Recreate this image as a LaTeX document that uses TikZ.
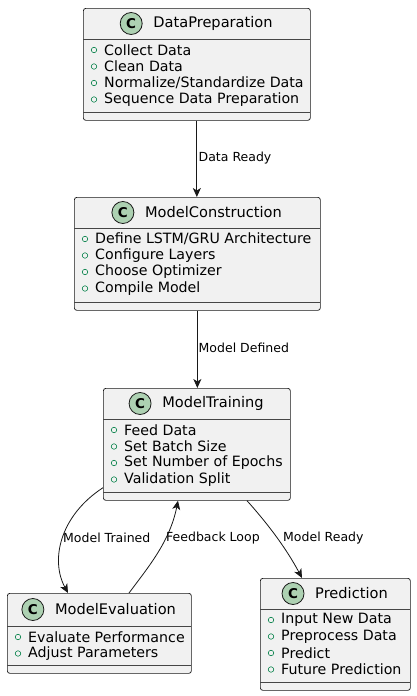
\documentclass[tikz,border=0pt]{standalone}
\usepackage{fontspec}
\setmainfont{DejaVu Sans}
\usetikzlibrary{arrows.meta}
\definecolor{boxfill}{HTML}{F1F1F1}
\definecolor{boxline}{HTML}{181818}
\definecolor{circfill}{HTML}{ADD1B2}
\definecolor{bulletc}{HTML}{038048}
\tikzset{
  clsbox/.style={draw=boxline, fill=boxfill, line width=0.7pt, rounded corners=2.5pt, inner sep=0pt},
  sepline/.style={draw=boxline!80, line width=0.7pt},
  clstitle/.style={inner sep=0pt, font=\fontsize{14.6}{17}\selectfont, text=black},
  clscirc/.style={circle, draw=boxline, fill=circfill, line width=0.8pt, minimum size=22pt, inner sep=0pt, font=\fontsize{13.5}{15}\selectfont\bfseries},
  clsitem/.style={inner sep=0pt, anchor=west, font=\fontsize{14.2}{16}\selectfont, text=black},
  bullet/.style={circle, draw=bulletc, line width=0.6pt, minimum size=5.5pt, inner sep=0pt},
  conn/.style={draw=boxline, line width=0.8pt, -{Stealth[length=9pt,width=8pt,inset=2.5pt]}},
  elabel/.style={inner sep=0pt, anchor=west, font=\fontsize{12.5}{14}\selectfont, text=black}
}
% #1 name, #2 x1, #3 y1, #4 x2, #5 y2, #6 title, #7 items, #8 header height
\newcommand\umlcls[8]{%
  \node[clsbox, minimum width={(#4-#2)*1pt}, minimum height={(#5-#3)*1pt}, anchor=north west] (#1) at (#2,#3) {};
  \draw[sepline] (#2,{#3+#8}) -- (#4,{#3+#8});
  \draw[sepline] (#2,{#5-8}) -- (#4,{#5-8});
  \node[clstitle] (#1-t) at ({(#2+#4)/2+16.5},{#3+#8/2}) {#6};
  \node[clscirc] (#1-c) at ([xshift=-22pt]#1-t.west) {C};
  \foreach \t [count=\i] in {#7} {
    \node[bullet] (#1-b\i) at ({#2+11},{#3+#8+11+(\i-1)*16.5}) {};
    \node[clsitem] (#1-i\i) at ({#2+21},{#3+#8+11+(\i-1)*16.5}) {\t};
  }%
}
\begin{document}
\begin{tikzpicture}[x=1pt,y=-1pt]
\useasboundingbox (0,0) rectangle (416,696);
\umlcls{dp}{83}{8}{310}{120}{DataPreparation}{Collect Data,Clean Data,Normalize/Standardize Data,Sequence Data Preparation}{31}
\umlcls{mc}{74}{197}{320}{310}{ModelConstruction}{Define LSTM/GRU Architecture,Configure Layers,Choose Optimizer,Compile Model}{31}
\umlcls{mt}{103}{388}{290}{500}{ModelTraining}{Feed Data,Set Batch Size,Set Number of Epochs,Validation Split}{31}
\umlcls{me}{7}{593}{191}{673}{ModelEvaluation}{Evaluate Performance,Adjust Parameters}{33}
\umlcls{pr}{260}{578}{410}{690}{Prediction}{Input New Data,Preprocess Data,Predict,Future Prediction}{31}
% connectors
\draw[conn] (dp.south) -- (dp.south |- mc.north);
\node[elabel] (l1) at (198.5,158) {Data Ready};
\draw[conn] (mc.south) -- (mc.south |- mt.north);
\node[elabel] (l2) at (198.5,348) {Model Defined};
\draw[conn] ([yshift=13pt]mt.south west) .. controls +(-43,28) and +(-18,-33) .. ([xshift=61pt]me.north west);
\node[elabel] (l3) at (63,538) {Model Trained};
\draw[conn] ([xshift=122pt]me.north west) .. controls +(21,-28) and +(-8,40) .. ([xshift=75pt]mt.south west);
\node[elabel] (l4) at (166,538) {Feedback Loop};
\draw[conn] ([xshift=144pt]mt.south west) .. controls +(18,20) and +(-17,-32) .. ([xshift=42pt]pr.north west);
\node[elabel] (l5) at (283,538) {Model Ready};
\end{tikzpicture}
\end{document}
